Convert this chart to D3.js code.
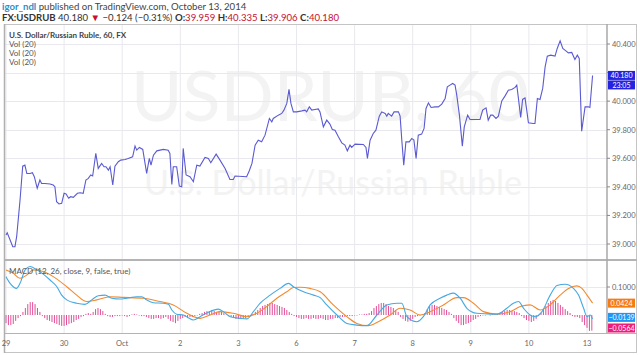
<!DOCTYPE html>
<html>
<head>
<meta charset="utf-8">
<script src="https://cdn.jsdelivr.net/npm/d3@7"></script>
<style>
body { margin: 0; background: #fff; }
svg { display: block; }
text { font-family: Lato, "Open Sans", sans-serif; }
</style>
</head>
<body>
<div id="chart"></div>
<script>
// hourly USDRUB, hours counted from the first bar (Sep 29), trading hours only
var priceHours = [0,0.5,1.7,2.8,3.7,4.4,5.8,6.9,7.8,8.6,9.9,10.9,11.7,12.9,14.0,14.7,16.1,18.2,19.5,20.2,20.9,21.9,23.0,24.0,24.8,25.9,26.7,27.8,29.5,30.6,31.9,33.0,34.0,35.0,35.8,37.1,38.1,39.5,40.5,41.3,42.3,43.0,44.1,45.0,46.4,47.4,49.2,50.5,52.3,53.3,54.0,55.1,56.5,58.1,59.2,59.9,60.9,62.3,65.0,67.0,67.7,68.5,69.1,70.5,71.6,72.6,73.2,74.4,76.0,77.4,78.8,80.1,82.2,83.6,84.6,86.8,88.4,90.5,92.5,93.9,94.6,99.4,100.5,101.6,102.9,104.2,105.6,107.0,108.8,109.8,110.4,112.5,113.9,114.8,116.0,116.9,117.7,118.7,120.1,122.2,123.5,124.2,125.3,126.3,127.6,129.0,129.7,131.1,132.5,133.8,134.8,135.9,137.3,138.7,140.0,141.0,142.1,142.8,144.2,147.6,148.7,149.3,150.4,151.7,152.8,154.2,155.2,156.6,157.3,157.9,159.3,160.3,162.1,162.8,163.5,164.3,165.2,166.6,167.6,168.5,169.4,170.3,171.7,172.7,173.5,174.5,175.6,177.2,178.6,180.0,181.4,182.3,183.4,184.5,185.5,186.2,187.3,188.5,189.3,190.7,191.7,193.0,195.8,196.9,198.3,199.2,200.2,201.1,202.4,203.4,204.8,206.1,207.5,208.9,210.3,211.0,211.6,212.6,213.4,214.4,215.1,215.8,217.8,218.5,219.5,220.6,221.7,222.7,223.6,225.0,226.8,227.7,228.9,230.0,230.9,232.3,233.7,235.0,236.0,236.8,237.8,239.2,240.6,241.2,242.3];
var priceValues = [39.063,39.079,39.028,38.981,38.981,39.051,39.308,39.545,39.552,39.494,39.494,39.499,39.471,39.390,39.448,39.424,39.424,39.420,39.413,39.401,39.296,39.280,39.285,39.355,39.350,39.320,39.331,39.327,39.355,39.359,39.355,39.448,39.459,39.483,39.476,39.634,39.529,39.564,39.541,39.541,39.517,39.541,39.413,39.545,39.576,39.587,39.592,39.599,39.610,39.685,39.657,39.676,39.662,39.494,39.599,39.552,39.622,39.652,39.662,39.657,39.634,39.417,39.541,39.541,39.406,39.401,39.669,39.483,39.471,39.436,39.552,39.545,39.606,39.599,39.569,39.629,39.587,39.529,39.452,39.452,39.476,39.471,39.513,39.564,39.692,39.727,39.715,39.762,39.879,39.855,39.879,39.902,39.914,39.937,39.984,40.082,39.984,39.925,39.925,39.932,39.937,39.925,39.960,39.937,39.942,39.946,39.925,39.820,39.867,39.839,39.802,39.797,39.750,39.708,39.692,39.652,39.692,39.676,39.699,39.697,39.676,39.599,39.727,39.774,39.797,39.895,39.925,39.914,39.895,39.914,39.895,39.925,39.925,39.895,39.727,39.552,39.715,39.715,39.739,39.727,39.599,39.762,39.769,39.809,39.949,39.988,39.956,39.960,39.960,39.979,40.019,40.100,40.112,40.124,40.112,40.042,39.902,39.685,39.820,39.902,39.872,39.872,39.872,39.937,39.953,39.867,39.902,39.902,39.879,39.895,40.002,40.035,40.077,40.082,40.096,40.112,40.030,39.886,40.012,40.023,39.937,39.848,39.844,39.844,40.019,40.012,40.089,40.240,40.315,40.322,40.315,40.369,40.422,40.369,40.357,40.338,40.341,40.292,40.322,40.299,39.790,39.960,39.960,39.956,40.180];

var macdHours = [0,1.7,4.4,5.8,7.9,9.9,11.3,14.0,18.2,21.0,23.0,25.1,29.2,32.6,35.4,38.1,40.9,43.7,47.1,49.9,54.0,56.1,58.1,60.9,65.0,67.1,68.5,70.5,73.3,75.3,77.4,80.2,83.6,87.7,89.8,92.6,96.7,99.5,102.2,105.0,109.1,113.2,116.7,118.7,122.9,127.0,129.8,132.5,136.7,140.8,144.9,149.1,153.2,157.3,161.4,163.5,165.6,169.7,172.4,175.2,179.3,182.1,184.8,187.6,190.4,194.5,198.6,202.8,206.9,209.6,211.7,213.8,216.5,218.6,221.4,224.8,227.6,231.0,234.4,236.5,238.6,240.0,241.3,242.3];
var macdValues = [0.137,0.113,0.095,0.113,0.161,0.173,0.169,0.155,0.125,0.101,0.071,0.054,0.042,0.038,0.054,0.069,0.071,0.060,0.057,0.060,0.065,0.065,0.054,0.044,0.042,0.038,0.018,0.003,0.000,-0.010,-0.018,-0.006,0.010,0.021,0.012,-0.006,-0.012,-0.014,0.012,0.042,0.071,0.095,0.113,0.101,0.083,0.071,0.062,0.036,0.000,-0.030,-0.036,-0.038,0.000,0.036,0.042,0.042,-0.006,-0.024,-0.006,0.036,0.060,0.071,0.078,0.060,0.024,0.006,0.004,0.003,0.024,0.042,0.048,0.024,0.000,-0.006,0.012,0.071,0.105,0.110,0.095,0.071,0.024,-0.006,0.000,-0.0139];

var signalHours = [0,3.0,5.8,8.6,11.3,15.4,19.5,25.1,29.2,33.3,37.5,43.0,48.5,56.7,63.6,69.1,74.7,80.2,84.3,88.4,93.9,99.5,103.6,107.7,111.9,116.0,118.7,121.5,125.6,129.8,135.2,140.8,144.9,149.7,153.8,158.7,162.8,166.9,171.1,175.2,180.7,186.2,189.0,193.1,197.2,202.8,208.3,212.4,216.5,220.7,224.8,228.9,232.4,235.8,237.9,240.0,242.3];
var signalValues = [0.161,0.149,0.131,0.143,0.161,0.155,0.137,0.101,0.071,0.048,0.054,0.065,0.063,0.060,0.048,0.036,0.006,-0.012,0.000,0.012,0.006,-0.006,0.006,0.030,0.060,0.083,0.098,0.099,0.095,0.083,0.036,-0.006,-0.030,-0.038,-0.024,0.000,0.024,0.018,0.000,0.012,0.036,0.062,0.062,0.042,0.012,0.003,0.012,0.030,0.036,0.018,0.036,0.071,0.095,0.104,0.095,0.071,0.0424];

// histogram, one bar per hour from hour 0
var histValues = [-0.029,-0.036,-0.036,-0.032,-0.021,-0.011,-0.004,0.011,0.025,0.039,0.046,0.046,0.039,0.025,0.011,-0.004,-0.011,-0.018,-0.021,-0.025,-0.029,-0.032,-0.036,-0.039,-0.039,-0.036,-0.032,-0.029,-0.025,-0.018,-0.014,-0.007,-0.004,0.004,0.007,0.004,0.011,0.021,0.025,0.021,0.014,0.004,-0.004,-0.007,-0.007,-0.004,-0.004,-0.004,-0.002,-0.004,-0.007,-0.004,0.002,0.004,0.002,-0.002,-0.004,-0.004,-0.007,-0.011,-0.014,-0.014,-0.011,-0.011,-0.014,-0.011,-0.007,-0.014,-0.021,-0.025,-0.029,-0.021,-0.014,-0.011,-0.007,-0.011,-0.007,-0.007,-0.004,-0.002,0.004,0.007,0.011,0.014,0.014,0.018,0.014,0.011,0.014,0.011,0.007,0.002,-0.004,-0.007,-0.011,-0.014,-0.014,-0.011,-0.014,-0.011,-0.007,-0.004,0.004,0.011,0.018,0.025,0.032,0.036,0.039,0.043,0.043,0.039,0.036,0.032,0.029,0.025,0.018,0.011,0.004,-0.004,-0.007,-0.011,-0.014,-0.014,-0.011,-0.014,-0.014,-0.011,-0.014,-0.014,-0.011,-0.014,-0.018,-0.018,-0.014,-0.014,-0.011,-0.011,-0.007,-0.007,-0.007,-0.004,-0.004,-0.004,-0.002,-0.002,0.002,0.002,0.004,0.004,0.007,0.014,0.025,0.032,0.039,0.043,0.043,0.039,0.032,0.029,0.025,0.018,0.011,-0.007,-0.014,-0.021,-0.024,-0.021,-0.014,-0.007,-0.004,-0.002,0.002,0.007,0.021,0.032,0.036,0.036,0.032,0.029,0.025,0.021,0.018,0.011,0.004,-0.011,-0.021,-0.029,-0.036,-0.036,-0.032,-0.029,-0.025,-0.018,-0.014,-0.007,-0.004,-0.002,-0.002,0,-0.002,0.002,0.002,0.004,0.007,0.011,0.014,0.018,0.018,0.014,0.014,0.011,0.007,-0.004,-0.011,-0.018,-0.021,-0.025,-0.021,-0.014,-0.004,0.007,0.021,0.032,0.043,0.050,0.054,0.050,0.043,0.036,0.029,0.021,0.014,0.007,-0.004,-0.007,-0.007,-0.011,-0.025,-0.036,-0.046,-0.057,-0.056];

var dayLabels = ["29", "30", "Oct", "2", "3", "6", "7", "8", "9", "10", "13"];
var priceTicks = [39.0, 39.2, 39.4, 39.6, 39.8, 40.0, 40.2, 40.4];
var macdTicks = [0.1];
var lastPrice = 40.180, lastTime = "23:05";
var lastMacd = -0.0139, lastSignal = 0.0424, lastHist = -0.0564;

var width = 640, height = 355;
var svg = d3.select("#chart").append("svg")
    .attr("width", width).attr("height", height);

// header
var h1 = svg.append("text").attr("x", 2).attr("y", 10).style("font-size", "9.6px");
h1.append("tspan").attr("fill", "#2f8fc8").attr("font-weight", "bold").text("igor_ndl");
h1.append("tspan").attr("fill", "#444").text(" published on TradingView.com, October 13, 2014");

var h2 = svg.append("text").attr("x", 2).attr("y", 21).style("font-size", "9.6px").attr("fill", "#333");
h2.append("tspan").attr("font-weight", "bold").text("FX:USDRUB");
h2.append("tspan").text(" 40.180 ");
h2.append("tspan").attr("fill", "#c8102e").text("▼");
h2.append("tspan").text(" \u22120.124 (\u22120.31%) ");
[["O:", "39.959"], ["H:", "40.335"], ["L:", "39.906"], ["C:", "40.180"]].forEach(function(p) {
    h2.append("tspan").attr("font-weight", "bold").text(p[0]);
    h2.append("tspan").attr("fill", "#c8102e").text(p[1] + " ");
});

// panel geometry
var left = 5, plotRight = 607, right = 636;
var mainTop = 25, mainBottom = 259, macdTop = 262, macdBottom = 333;

var x = d3.scaleLinear().domain([0, 240]).range([6, 587]);
var y = d3.scaleLinear().domain([39.0, 40.4]).range([244, 44]);
var ym = d3.scaleLinear().domain([0, 0.1]).range([315, 287]);

var defs = svg.append("defs");
defs.append("clipPath").attr("id", "clipMain").append("rect")
    .attr("x", left).attr("y", mainTop).attr("width", plotRight - left).attr("height", mainBottom - mainTop);
defs.append("clipPath").attr("id", "clipMacd").append("rect")
    .attr("x", left).attr("y", macdTop).attr("width", plotRight - left).attr("height", macdBottom - macdTop);

// watermark
svg.append("text").attr("x", 330).attr("y", 121).attr("text-anchor", "middle")
    .style("font-size", "70px").attr("fill", "#f3f3f3").text("USDRUB, 60");
svg.append("text").attr("x", 333).attr("y", 195).attr("text-anchor", "middle")
    .style("font-size", "34px").attr("fill", "#f3f3f3").text("U.S. Dollar/Russian Ruble");

// grid
var dayHours = dayLabels.map(function(d, i) { return i * 24; });
svg.append("g").selectAll("line").data(dayHours).enter().append("line")
    .attr("x1", function(d) { return x(d); }).attr("x2", function(d) { return x(d); })
    .attr("y1", mainTop).attr("y2", macdBottom)
    .attr("stroke", "#e8e8ee").attr("stroke-width", 1);
svg.append("g").selectAll("line").data(priceTicks).enter().append("line")
    .attr("x1", left).attr("x2", plotRight)
    .attr("y1", function(d) { return Math.round(y(d)) + 0.5; })
    .attr("y2", function(d) { return Math.round(y(d)) + 0.5; })
    .attr("stroke", "#e8e8ee");
svg.append("g").selectAll("line").data(macdTicks).enter().append("line")
    .attr("x1", left).attr("x2", plotRight)
    .attr("y1", function(d) { return Math.round(ym(d)) + 0.5; })
    .attr("y2", function(d) { return Math.round(ym(d)) + 0.5; })
    .attr("stroke", "#e8e8ee");

// price line
var priceData = priceHours.map(function(h, i) { return [h, priceValues[i]]; });
svg.append("path").datum(priceData)
    .attr("clip-path", "url(#clipMain)")
    .attr("fill", "none").attr("stroke", "#5a5ad2").attr("stroke-width", 1.1)
    .attr("d", d3.line().x(function(d) { return x(d[0]); }).y(function(d) { return y(d[1]); }));

// MACD panel
var gm = svg.append("g").attr("clip-path", "url(#clipMacd)");
gm.selectAll("line.hist").data(histValues).enter().append("line")
    .attr("class", "hist")
    .attr("x1", function(d, i) { return x(i); }).attr("x2", function(d, i) { return x(i); })
    .attr("y1", ym(0)).attr("y2", function(d) { return ym(d); })
    .attr("stroke", "#e04f98").attr("stroke-width", 1);

var macdData = macdHours.map(function(h, i) { return [h, macdValues[i]]; });
var signalData = signalHours.map(function(h, i) { return [h, signalValues[i]]; });
var mline = d3.line().curve(d3.curveMonotoneX)
    .x(function(d) { return x(d[0]); }).y(function(d) { return ym(d[1]); });
gm.append("path").datum(signalData).attr("fill", "none")
    .attr("stroke", "#f28a2e").attr("stroke-width", 1.1).attr("d", mline);
gm.append("path").datum(macdData).attr("fill", "none")
    .attr("stroke", "#45a9e2").attr("stroke-width", 1.1).attr("d", mline);

// legends
svg.append("text").attr("x", 9).attr("y", 38).style("font-size", "8px")
    .attr("font-weight", "bold").attr("fill", "#444").text("U.S. Dollar/Russian Ruble, 60, FX");
[47, 56, 65].forEach(function(yy) {
    svg.append("text").attr("x", 9).attr("y", yy).style("font-size", "8px")
        .attr("fill", "#555").text("Vol (20)");
});
svg.append("text").attr("x", 9).attr("y", 274).style("font-size", "8px")
    .attr("fill", "#555").text("MACD (12, 26, close, 9, false, true)");

// frame
var frame = svg.append("g").attr("fill", "none");
frame.append("rect").attr("x", 4.5).attr("y", 24.5).attr("width", 632).attr("height", 328)
    .attr("stroke", "#c4c4c4");
frame.append("line").attr("x1", 4).attr("x2", 637).attr("y1", 260).attr("y2", 260)
    .attr("stroke", "#b4b4b4").attr("stroke-width", 2);
frame.append("line").attr("x1", plotRight).attr("x2", plotRight).attr("y1", 24).attr("y2", macdBottom)
    .attr("stroke", "#a8a8a8").attr("stroke-width", 1.5);
frame.append("line").attr("x1", 4).attr("x2", 637).attr("y1", macdBottom + 0.5).attr("y2", macdBottom + 0.5)
    .attr("stroke", "#b4b4b4");
frame.append("line").attr("x1", 4.5).attr("x2", 4.5).attr("y1", 24).attr("y2", 353)
    .attr("stroke", "#b0b0b0").attr("stroke-width", 1.5);

// right axes (labels under the last-value tags are hidden, as on the original)
var axisP = svg.append("g");
var tagTop = y(lastPrice) - 6, tagBottom = y(lastPrice) + 15;
priceTicks.forEach(function(t) {
    var yy = y(t);
    axisP.append("line").attr("x1", plotRight).attr("x2", plotRight + 3)
        .attr("y1", yy).attr("y2", yy).attr("stroke", "#888");
    if (yy > tagTop && yy < tagBottom) return;
    axisP.append("text").attr("x", plotRight + 5).attr("y", yy + 2.8)
        .style("font-size", "7.5px").attr("fill", "#666").text(d3.format(".3f")(t));
});
macdTicks.forEach(function(t) {
    var yy = ym(t);
    axisP.append("line").attr("x1", plotRight).attr("x2", plotRight + 3)
        .attr("y1", yy).attr("y2", yy).attr("stroke", "#888");
    axisP.append("text").attr("x", plotRight + 5).attr("y", yy + 2.8)
        .style("font-size", "7.5px").attr("fill", "#666").text(d3.format(".4f")(t));
});

function tag(yc, label, color) {
    axisP.append("rect").attr("x", plotRight + 1).attr("y", yc - 4.5)
        .attr("width", 27).attr("height", 9).attr("fill", color);
    axisP.append("text").attr("x", plotRight + 14.5).attr("y", yc + 2.6).attr("text-anchor", "middle")
        .style("font-size", "7px").attr("fill", "#fff").text(label);
}
tag(y(lastPrice), d3.format(".3f")(lastPrice), "#2323e0");
tag(y(lastPrice) + 9.5, lastTime, "#2323e0");
tag(ym(lastSignal), d3.format(".4f")(lastSignal), "#f57c10");
tag(ym(lastMacd) - 1.5, d3.format(".4f")(lastMacd).replace("-", "\u2212"), "#2196f3");
tag(Math.min(ym(lastHist), macdBottom - 5), d3.format(".4f")(lastHist).replace("-", "\u2212"), "#ec1e79");

// time axis
svg.append("g").selectAll("text").data(dayLabels).enter().append("text")
    .attr("x", function(d, i) { return x(i * 24); }).attr("y", 346)
    .attr("text-anchor", "middle").style("font-size", "7.5px").attr("fill", "#666")
    .text(function(d) { return d; });
</script>
</body>
</html>
